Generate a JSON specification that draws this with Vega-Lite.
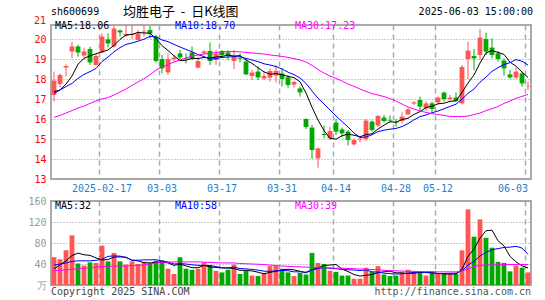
{
"$schema": "https://vega.github.io/schema/vega-lite/v6.json",
"padding": {"left": 0, "top": 5, "right": 5, "bottom": 0},
"background": "#ffffff",
"config": {
  "font": "DejaVu Sans Mono",
  "view": {"stroke": "#aaaaaa", "strokeWidth": 2},
  "axis": {"labelFont": "DejaVu Sans Mono", "labelFontSize": 10, "ticks": false, "domain": false, "title": null, "labelOverlap": false},
  "legend": {"labelFont": "DejaVu Sans Mono", "labelFontSize": 10}
},
"datasets": {
"kline": [
{"d":"2025-02-05","o":17.2,"h":18.37,"l":16.87,"c":17.92,"v":53,"m5":17.37,"m10":17.28,"m30":16.08,"vm5":31,"vm10":38,"vm30":27},
{"d":"2025-02-06","o":17.75,"h":18.28,"l":17.6,"c":18.2,"v":49,"m5":17.45,"m10":17.45,"m30":16.18,"vm5":38,"vm10":40,"vm30":28},
{"d":"2025-02-07","o":18.57,"h":18.73,"l":18.12,"c":18.65,"v":66,"m5":17.75,"m10":17.62,"m30":16.3,"vm5":46,"vm10":42,"vm30":29},
{"d":"2025-02-10","o":19.37,"h":19.87,"l":19.03,"c":19.62,"v":95,"m5":18.15,"m10":17.78,"m30":16.42,"vm5":56,"vm10":45,"vm30":30},
{"d":"2025-02-11","o":19.62,"h":19.7,"l":19.12,"c":19.33,"v":41,"m5":18.74,"m10":18.03,"m30":16.55,"vm5":60.8,"vm10":46,"vm30":31},
{"d":"2025-02-12","o":19.17,"h":19.57,"l":19.07,"c":19.37,"v":37,"m5":19.03,"m10":18.23,"m30":16.65,"vm5":57.6,"vm10":46,"vm30":32},
{"d":"2025-02-13","o":19.5,"h":19.62,"l":18.7,"c":18.83,"v":43,"m5":19.16,"m10":18.37,"m30":16.78,"vm5":56.4,"vm10":46,"vm30":33},
{"d":"2025-02-14","o":18.7,"h":19.28,"l":18.67,"c":19.15,"v":42,"m5":19.26,"m10":18.53,"m30":16.9,"vm5":51.6,"vm10":47,"vm30":34},
{"d":"2025-02-17","o":19.33,"h":20.28,"l":19.28,"c":20.12,"v":75,"m5":19.36,"m10":18.87,"m30":17.0,"vm5":47.6,"vm10":49,"vm30":35},
{"d":"2025-02-18","o":19.98,"h":20.28,"l":19.57,"c":19.78,"v":45,"m5":19.45,"m10":19.1,"m30":17.07,"vm5":48.4,"vm10":54.6,"vm30":35.5},
{"d":"2025-02-19","o":19.62,"h":20.68,"l":19.57,"c":20.53,"v":61,"m5":19.68,"m10":19.36,"m30":17.2,"vm5":53.2,"vm10":55.4,"vm30":36},
{"d":"2025-02-20","o":20.43,"h":20.47,"l":20.12,"c":20.33,"v":45,"m5":19.98,"m10":19.57,"m30":17.35,"vm5":53.6,"vm10":55,"vm30":36},
{"d":"2025-02-21","o":20.17,"h":20.68,"l":20.1,"c":20.25,"v":39,"m5":20.2,"m10":19.73,"m30":17.5,"vm5":53,"vm10":52.3,"vm30":36},
{"d":"2025-02-24","o":20.2,"h":20.68,"l":20.0,"c":20.25,"v":45,"m5":20.23,"m10":19.8,"m30":17.68,"vm5":47,"vm10":47.3,"vm30":37},
{"d":"2025-02-25","o":19.95,"h":20.45,"l":19.93,"c":20.28,"v":40,"m5":20.33,"m10":19.89,"m30":17.85,"vm5":46,"vm10":47.2,"vm30":37.5},
{"d":"2025-02-26","o":20.33,"h":20.7,"l":20.12,"c":20.37,"v":44,"m5":20.3,"m10":19.99,"m30":18.02,"vm5":42.6,"vm10":47.9,"vm30":38},
{"d":"2025-02-27","o":20.45,"h":20.65,"l":20.03,"c":20.28,"v":42,"m5":20.29,"m10":20.13,"m30":18.22,"vm5":42,"vm10":47.8,"vm30":40},
{"d":"2025-02-28","o":20.12,"h":20.2,"l":18.83,"c":18.9,"v":46,"m5":20.02,"m10":20.11,"m30":18.45,"vm5":43.4,"vm10":48.2,"vm30":42},
{"d":"2025-03-03","o":19.0,"h":19.2,"l":18.28,"c":18.53,"v":47,"m5":19.67,"m10":19.95,"m30":18.6,"vm5":43.8,"vm10":45.4,"vm30":43},
{"d":"2025-03-04","o":18.33,"h":19.28,"l":18.2,"c":19.0,"v":31,"m5":19.42,"m10":19.87,"m30":18.72,"vm5":42,"vm10":44,"vm30":43.5},
{"d":"2025-03-05","o":19.0,"h":19.2,"l":18.85,"c":19.07,"v":21,"m5":19.16,"m10":19.73,"m30":18.85,"vm5":37.4,"vm10":40,"vm30":44},
{"d":"2025-03-06","o":19.28,"h":19.45,"l":18.95,"c":19.08,"v":53,"m5":18.92,"m10":19.6,"m30":18.95,"vm5":39.6,"vm10":40.8,"vm30":44},
{"d":"2025-03-07","o":19.05,"h":19.28,"l":18.78,"c":19.03,"v":31,"m5":18.94,"m10":19.48,"m30":19.05,"vm5":36.6,"vm10":40,"vm30":44},
{"d":"2025-03-10","o":19.33,"h":19.62,"l":18.95,"c":19.03,"v":29,"m5":19.04,"m10":19.36,"m30":19.15,"vm5":33,"vm10":38.4,"vm30":44},
{"d":"2025-03-11","o":18.57,"h":19.12,"l":18.53,"c":18.9,"v":31,"m5":19.02,"m10":19.22,"m30":19.2,"vm5":33,"vm10":37.5,"vm30":44},
{"d":"2025-03-12","o":19.3,"h":19.45,"l":19.2,"c":19.37,"v":43,"m5":19.08,"m10":19.12,"m30":19.25,"vm5":37.4,"vm10":37.4,"vm30":43.5},
{"d":"2025-03-13","o":19.4,"h":19.83,"l":18.7,"c":18.9,"v":38,"m5":19.05,"m10":18.99,"m30":19.28,"vm5":34.4,"vm10":37,"vm30":43},
{"d":"2025-03-14","o":18.95,"h":19.45,"l":18.7,"c":19.28,"v":27,"m5":19.1,"m10":19.02,"m30":19.32,"vm5":33.6,"vm10":35.1,"vm30":42.5},
{"d":"2025-03-17","o":19.4,"h":19.45,"l":19.07,"c":19.2,"v":24,"m5":19.13,"m10":19.08,"m30":19.36,"vm5":32.6,"vm10":32.8,"vm30":42},
{"d":"2025-03-18","o":19.33,"h":19.45,"l":18.95,"c":19.2,"v":29,"m5":19.19,"m10":19.1,"m30":19.37,"vm5":32.2,"vm10":32.6,"vm30":42},
{"d":"2025-03-19","o":18.9,"h":19.45,"l":18.5,"c":19.15,"v":39,"m5":19.15,"m10":19.12,"m30":19.37,"vm5":31.4,"vm10":34.4,"vm30":42},
{"d":"2025-03-20","o":19.05,"h":19.28,"l":18.83,"c":19.02,"v":21,"m5":19.17,"m10":19.11,"m30":19.36,"vm5":28,"vm10":31.2,"vm30":41},
{"d":"2025-03-21","o":18.87,"h":18.95,"l":18.2,"c":18.23,"v":27,"m5":18.96,"m10":19.03,"m30":19.33,"vm5":28,"vm10":30.8,"vm30":40.5},
{"d":"2025-03-24","o":18.15,"h":18.45,"l":17.95,"c":18.32,"v":18,"m5":18.78,"m10":18.95,"m30":19.3,"vm5":26.8,"vm10":29.7,"vm30":40},
{"d":"2025-03-25","o":18.37,"h":18.62,"l":17.95,"c":18.08,"v":17,"m5":18.56,"m10":18.87,"m30":19.28,"vm5":24.4,"vm10":28.3,"vm30":39.5},
{"d":"2025-03-26","o":18.03,"h":18.37,"l":17.95,"c":18.15,"v":23,"m5":18.36,"m10":18.76,"m30":19.25,"vm5":21.2,"vm10":26.3,"vm30":39},
{"d":"2025-03-27","o":18.07,"h":18.53,"l":17.87,"c":18.4,"v":36,"m5":18.24,"m10":18.7,"m30":19.2,"vm5":24.2,"vm10":26.1,"vm30":38},
{"d":"2025-03-28","o":18.17,"h":18.7,"l":17.82,"c":18.4,"v":36,"m5":18.27,"m10":18.62,"m30":19.17,"vm5":26,"vm10":27,"vm30":37},
{"d":"2025-03-31","o":18.28,"h":18.53,"l":17.62,"c":18.0,"v":31,"m5":18.21,"m10":18.5,"m30":19.13,"vm5":28.6,"vm10":27.7,"vm30":36},
{"d":"2025-04-01","o":18.08,"h":18.2,"l":17.57,"c":17.7,"v":24,"m5":18.13,"m10":18.34,"m30":19.08,"vm5":30,"vm10":27.2,"vm30":35.5},
{"d":"2025-04-02","o":17.72,"h":17.9,"l":17.57,"c":17.85,"v":17,"m5":18.07,"m10":18.22,"m30":19.02,"vm5":28.8,"vm10":25,"vm30":35},
{"d":"2025-04-03","o":17.53,"h":17.62,"l":17.12,"c":17.33,"v":23,"m5":17.86,"m10":18.05,"m30":18.95,"vm5":26.2,"vm10":25.2,"vm30":34.5},
{"d":"2025-04-07","o":16.0,"h":16.03,"l":15.5,"c":15.6,"v":20,"m5":17.3,"m10":17.78,"m30":18.85,"vm5":23,"vm10":24.5,"vm30":34},
{"d":"2025-04-08","o":15.57,"h":15.7,"l":14.0,"c":14.45,"v":61,"m5":16.59,"m10":17.4,"m30":18.68,"vm5":29,"vm10":28.8,"vm30":33.5},
{"d":"2025-04-09","o":14.03,"h":14.57,"l":13.57,"c":14.53,"v":42,"m5":15.95,"m10":17.04,"m30":18.47,"vm5":32.6,"vm10":31.3,"vm30":33},
{"d":"2025-04-10","o":15.25,"h":15.67,"l":15.03,"c":15.2,"v":40,"m5":15.42,"m10":16.75,"m30":18.3,"vm5":37.2,"vm10":33,"vm30":33},
{"d":"2025-04-11","o":15.03,"h":15.62,"l":14.95,"c":15.4,"v":27,"m5":15.04,"m10":16.45,"m30":18.15,"vm5":38,"vm10":32.1,"vm30":32.5},
{"d":"2025-04-14","o":15.82,"h":16.0,"l":15.2,"c":15.37,"v":25,"m5":14.99,"m10":16.15,"m30":18.03,"vm5":39,"vm10":31,"vm30":32},
{"d":"2025-04-15","o":15.48,"h":15.57,"l":15.12,"c":15.28,"v":18,"m5":15.16,"m10":15.87,"m30":17.9,"vm5":30.4,"vm10":29.7,"vm30":32},
{"d":"2025-04-16","o":15.37,"h":15.45,"l":14.67,"c":14.95,"v":18,"m5":15.24,"m10":15.6,"m30":17.75,"vm5":25.6,"vm10":29.1,"vm30":31.5},
{"d":"2025-04-17","o":14.73,"h":15.03,"l":14.67,"c":14.95,"v":12,"m5":15.19,"m10":15.3,"m30":17.63,"vm5":20,"vm10":28.6,"vm30":31},
{"d":"2025-04-18","o":14.98,"h":15.12,"l":14.83,"c":15.02,"v":12,"m5":15.11,"m10":15.08,"m30":17.5,"vm5":17,"vm10":27.5,"vm30":30.5},
{"d":"2025-04-21","o":15.0,"h":16.0,"l":14.9,"c":15.92,"v":33,"m5":15.22,"m10":15.1,"m30":17.38,"vm5":18.6,"vm10":28.8,"vm30":30},
{"d":"2025-04-22","o":15.87,"h":15.93,"l":15.37,"c":15.45,"v":25,"m5":15.26,"m10":15.21,"m30":17.27,"vm5":20,"vm10":25.2,"vm30":29.5},
{"d":"2025-04-23","o":15.67,"h":16.2,"l":15.62,"c":16.15,"v":36,"m5":15.5,"m10":15.37,"m30":17.2,"vm5":23.6,"vm10":24.6,"vm30":29},
{"d":"2025-04-24","o":16.07,"h":16.2,"l":15.83,"c":15.9,"v":20,"m5":15.69,"m10":15.44,"m30":17.12,"vm5":25.2,"vm10":22.6,"vm30":28},
{"d":"2025-04-25","o":15.93,"h":16.17,"l":15.83,"c":15.9,"v":17,"m5":15.86,"m10":15.49,"m30":17.02,"vm5":26.2,"vm10":21.6,"vm30":27.5},
{"d":"2025-04-28","o":15.83,"h":16.0,"l":15.62,"c":15.8,"v":18,"m5":15.84,"m10":15.53,"m30":16.9,"vm5":23.2,"vm10":20.9,"vm30":27},
{"d":"2025-04-29","o":15.9,"h":16.33,"l":15.78,"c":16.12,"v":24,"m5":15.97,"m10":15.62,"m30":16.75,"vm5":23,"vm10":21.5,"vm30":26.5},
{"d":"2025-04-30","o":16.23,"h":16.57,"l":16.2,"c":16.48,"v":29,"m5":16.04,"m10":15.77,"m30":16.6,"vm5":21.6,"vm10":22.6,"vm30":26},
{"d":"2025-05-06","o":16.77,"h":16.9,"l":16.7,"c":16.83,"v":25,"m5":16.23,"m10":15.96,"m30":16.5,"vm5":22.6,"vm10":23.9,"vm30":26},
{"d":"2025-05-07","o":16.95,"h":17.12,"l":16.4,"c":16.62,"v":23,"m5":16.37,"m10":16.12,"m30":16.4,"vm5":23.8,"vm10":25,"vm30":25.5},
{"d":"2025-05-08","o":16.53,"h":16.9,"l":16.4,"c":16.78,"v":18,"m5":16.57,"m10":16.2,"m30":16.33,"vm5":23.8,"vm10":23.5,"vm30":25.5},
{"d":"2025-05-09","o":16.78,"h":16.87,"l":16.33,"c":16.5,"v":23,"m5":16.64,"m10":16.31,"m30":16.27,"vm5":23.6,"vm10":23.3,"vm30":25.5},
{"d":"2025-05-12","o":16.83,"h":17.12,"l":16.73,"c":17.07,"v":21,"m5":16.76,"m10":16.4,"m30":16.22,"vm5":22,"vm10":21.8,"vm30":25},
{"d":"2025-05-13","o":17.32,"h":17.37,"l":16.87,"c":17.0,"v":21,"m5":16.79,"m10":16.51,"m30":16.18,"vm5":21.2,"vm10":21.9,"vm30":25},
{"d":"2025-05-14","o":17.0,"h":17.2,"l":16.93,"c":17.07,"v":20,"m5":16.88,"m10":16.63,"m30":16.13,"vm5":20.6,"vm10":22.2,"vm30":25},
{"d":"2025-05-15","o":17.07,"h":17.33,"l":16.87,"c":16.9,"v":21,"m5":16.91,"m10":16.74,"m30":16.12,"vm5":21.2,"vm10":22.5,"vm30":25},
{"d":"2025-05-16","o":16.78,"h":18.7,"l":16.73,"c":18.6,"v":66,"m5":17.33,"m10":16.99,"m30":16.12,"vm5":29.8,"vm10":26.7,"vm30":26.5},
{"d":"2025-05-19","o":19.0,"h":19.87,"l":18.0,"c":19.42,"v":144,"m5":17.8,"m10":17.28,"m30":16.15,"vm5":54.4,"vm10":38.2,"vm30":31},
{"d":"2025-05-20","o":19.15,"h":19.5,"l":18.45,"c":19.03,"v":92,"m5":18.2,"m10":17.5,"m30":16.22,"vm5":68.6,"vm10":44.9,"vm30":35},
{"d":"2025-05-21","o":19.2,"h":20.5,"l":18.95,"c":20.07,"v":125,"m5":18.8,"m10":17.84,"m30":16.3,"vm5":89.6,"vm10":55.1,"vm30":37.5},
{"d":"2025-05-22","o":20.0,"h":20.32,"l":19.2,"c":19.37,"v":90,"m5":19.3,"m10":18.1,"m30":16.42,"vm5":103.4,"vm10":62.3,"vm30":38},
{"d":"2025-05-23","o":19.57,"h":20.03,"l":19.03,"c":19.2,"v":71,"m5":19.42,"m10":18.38,"m30":16.52,"vm5":104.4,"vm10":67.1,"vm30":38.5},
{"d":"2025-05-26","o":19.28,"h":19.4,"l":18.87,"c":19.0,"v":44,"m5":19.33,"m10":18.57,"m30":16.62,"vm5":84.4,"vm10":69.4,"vm30":38.5},
{"d":"2025-05-27","o":18.92,"h":19.03,"l":18.17,"c":18.53,"v":42,"m5":19.23,"m10":18.72,"m30":16.78,"vm5":74.4,"vm10":71.5,"vm30":39},
{"d":"2025-05-28","o":18.23,"h":18.45,"l":18.0,"c":18.08,"v":26,"m5":18.84,"m10":18.82,"m30":16.9,"vm5":54.6,"vm10":72.1,"vm30":39},
{"d":"2025-05-29","o":18.07,"h":18.57,"l":18.0,"c":18.37,"v":37,"m5":18.64,"m10":18.97,"m30":17.03,"vm5":44,"vm10":73.7,"vm30":39},
{"d":"2025-05-30","o":18.28,"h":18.37,"l":17.62,"c":17.78,"v":33,"m5":18.35,"m10":18.89,"m30":17.13,"vm5":36.4,"vm10":70.4,"vm30":39},
{"d":"2025-06-03","o":17.6,"h":17.87,"l":17.45,"c":17.62,"v":24,"m5":18.08,"m10":18.7,"m30":17.23,"vm5":32.4,"vm10":58.4,"vm30":39}
],
"one": [{}]
},
"spacing": 0,
"resolve": {"scale": {"color": "independent"}, "legend": {"color": "independent"}},
"vconcat": [
{
  "width": 480,
  "height": 154,
  "data": {"name": "kline"},
  "layer": [
    {
      "mark": {"type": "rule", "strokeWidth": 1},
      "encoding": {
        "x": {"field": "d", "type": "ordinal", "scale": {"paddingInner": 0, "paddingOuter": 0},
          "axis": {"values": ["2025-02-17","2025-03-03","2025-03-17","2025-03-31","2025-04-14","2025-04-28","2025-05-12","2025-06-03"],
            "bandPosition": 0, "grid": true, "gridDash": [5,4], "gridColor": "#aaaaaa", "gridWidth": 1.5,
            "labelAngle": 0, "labelOverlap": false, "labelColor": "#1a7fd4", "labelPadding": 4,
            "labelExpr": "datum.value == '2025-02-17' ? datum.value : substring(datum.value, 5)",
            "labelAlign": {"condition": {"test": "datum.value == '2025-06-03'", "value": "right"}, "value": "center"},
            "minExtent": 15, "maxExtent": 15}},
        "y": {"field": "l", "type": "quantitative", "scale": {"domain": [13, 20.7], "nice": false, "zero": false},
          "axis": {"values": [13,14,15,16,17,18,19,20], "tickCount": 20, "format": "d", "grid": true, "gridDash": [1,2], "gridColor": "#999999", "labelOverlap": false,
            "labelColor": "#ff0000", "labelPadding": 5, "minExtent": 50, "maxExtent": 50}},
        "y2": {"field": "h"},
        "color": {"condition": {"test": "datum.c >= datum.o", "value": "#ff5555"}, "value": "#00a800"}
      }
    },
    {
      "mark": {"type": "bar", "width": {"band": 0.8}},
      "encoding": {
        "x": {"field": "d", "type": "ordinal"},
        "y": {"field": "o", "type": "quantitative", "scale": {"domain": [13, 20.7], "nice": false, "zero": false}},
        "y2": {"field": "c"},
        "color": {"condition": {"test": "datum.c >= datum.o", "value": "#ff5555"}, "value": "#00a800"}
      }
    },
    {
      "transform": [{"fold": ["m5", "m10", "m30"], "as": ["k", "val"]}],
      "mark": {"type": "line", "strokeWidth": 1},
      "encoding": {
        "x": {"field": "d", "type": "ordinal"},
        "y": {"field": "val", "type": "quantitative", "scale": {"domain": [13, 20.7], "nice": false, "zero": false}},
        "color": {"field": "k", "type": "nominal",
          "scale": {"domain": ["m5", "m10", "m30"], "range": ["#000000", "#0000ff", "#ff00ff"]},
          "legend": {"orient": "none", "legendX": 0, "legendY": -4, "padding": 0, "direction": "horizontal", "columns": 3,
            "gridAlign": "all", "columnPadding": 55, "title": null, "symbolSize": 0, "symbolStrokeWidth": 0, "symbolOpacity": 0,
            "labelOffset": -6, "labelFontSize": 10,
            "labelExpr": "datum.value == 'm5' ? 'MA5:18.06' : datum.value == 'm10' ? 'MA10:18.70' : 'MA30:17.23'",
            "encode": {"labels": {"update": {"fill": {"signal": "datum.value == 'm5' ? '#000000' : datum.value == 'm10' ? '#0000ff' : '#ff00ff'"}}}}}
        }
      }
    },
    {
      "data": {"name": "one"},
      "mark": {"type": "text", "align": "left", "baseline": "middle", "dx": -3, "fontSize": 10, "font": "DejaVu Sans Mono", "color": "#000000"},
      "encoding": {
        "x": {"datum": "2025-02-05", "type": "ordinal"},
        "y": {"datum": 21.34, "type": "quantitative", "scale": {"domain": [13, 20.7], "nice": false, "zero": false}},
        "text": {"value": "sh600699"}
      }
    },
    {
      "data": {"name": "one"},
      "mark": {"type": "text", "align": "left", "baseline": "middle", "dx": -3, "fontSize": 13, "font": "Noto Sans CJK SC", "color": "#000000"},
      "encoding": {
        "x": {"datum": "2025-02-21", "type": "ordinal"},
        "y": {"datum": 21.34, "type": "quantitative", "scale": {"domain": [13, 20.7], "nice": false, "zero": false}},
        "text": {"value": "均胜电子\u00a0\u00a0-\u00a0\u00a0日K线图"}
      }
    },
    {
      "data": {"name": "one"},
      "mark": {"type": "text", "align": "right", "baseline": "middle", "dx": 5, "fontSize": 10, "font": "DejaVu Sans Mono", "color": "#000000"},
      "encoding": {
        "x": {"datum": "2025-06-03", "type": "ordinal"},
        "y": {"datum": 21.34, "type": "quantitative", "scale": {"domain": [13, 20.7], "nice": false, "zero": false}},
        "text": {"value": "2025-06-03 15:00:00"}
      }
    },
    {
      "data": {"name": "one"},
      "mark": {"type": "text", "align": "right", "baseline": "middle", "dx": -8, "fontSize": 10, "font": "DejaVu Sans Mono", "color": "#ff0000"},
      "encoding": {
        "x": {"datum": "2025-02-05", "type": "ordinal"},
        "y": {"datum": 20.88, "type": "quantitative", "scale": {"domain": [13, 20.7], "nice": false, "zero": false}},
        "text": {"value": "21"}
      }
    }
  ]
},
{
  "width": 480,
  "height": 84,
  "data": {"name": "kline"},
  "layer": [
    {
      "mark": {"type": "bar", "width": {"band": 0.8}},
      "encoding": {
        "x": {"field": "d", "type": "ordinal", "scale": {"paddingInner": 0, "paddingOuter": 0},
          "axis": {"values": ["2025-02-17","2025-03-03","2025-03-17","2025-03-31","2025-04-14","2025-04-28","2025-05-12","2025-06-03"],
            "bandPosition": 0, "grid": true, "gridDash": [5,4], "gridColor": "#aaaaaa", "gridWidth": 1.5,
            "labels": false, "minExtent": 0, "maxExtent": 0}},
        "y": {"field": "v", "type": "quantitative", "scale": {"domain": [0, 160], "nice": false},
          "axis": {"values": [0,40,80,120,160], "tickCount": 10, "format": "d", "grid": true, "gridDash": [1,2], "gridColor": "#999999", "labelOverlap": false,
            "labelColor": "#999999", "labelPadding": 5, "minExtent": 50, "maxExtent": 50,
            "labelExpr": "datum.value == 0 ? '万' : datum.label"}},
        "color": {"condition": {"test": "datum.c >= datum.o", "value": "#ff5555"}, "value": "#00a800"}
      }
    },
    {
      "transform": [{"fold": ["vm5", "vm10", "vm30"], "as": ["vk", "vval"]}],
      "mark": {"type": "line", "strokeWidth": 1},
      "encoding": {
        "x": {"field": "d", "type": "ordinal"},
        "y": {"field": "vval", "type": "quantitative", "scale": {"domain": [0, 160], "nice": false}},
        "color": {"field": "vk", "type": "nominal",
          "scale": {"domain": ["vm5", "vm10", "vm30"], "range": ["#000000", "#0000ff", "#ff00ff"]},
          "legend": {"orient": "none", "legendX": 0, "legendY": 0, "padding": 0, "direction": "horizontal", "columns": 3,
            "gridAlign": "all", "columnPadding": 73, "title": null, "symbolSize": 0, "symbolStrokeWidth": 0, "symbolOpacity": 0,
            "labelOffset": -6, "labelFontSize": 10,
            "labelExpr": "datum.value == 'vm5' ? 'MA5:32' : datum.value == 'vm10' ? 'MA10:58' : 'MA30:39'",
            "encode": {"labels": {"update": {"fill": {"signal": "datum.value == 'vm5' ? '#000000' : datum.value == 'vm10' ? '#0000ff' : '#ff00ff'"}}}}}
        }
      }
    },
    {
      "data": {"name": "one"},
      "mark": {"type": "text", "align": "left", "baseline": "middle", "dx": -3, "fontSize": 10, "font": "DejaVu Sans Mono", "color": "#444444"},
      "encoding": {
        "x": {"datum": "2025-02-05", "type": "ordinal"},
        "y": {"datum": -14, "type": "quantitative", "scale": {"domain": [0, 160], "nice": false}},
        "text": {"value": "Copyright 2025 SINA.COM"}
      }
    },
    {
      "data": {"name": "one"},
      "mark": {"type": "text", "align": "right", "baseline": "middle", "dx": 3, "fontSize": 10, "font": "DejaVu Sans Mono", "color": "#555555"},
      "encoding": {
        "x": {"datum": "2025-06-03", "type": "ordinal"},
        "y": {"datum": -14, "type": "quantitative", "scale": {"domain": [0, 160], "nice": false}},
        "text": {"value": "http://finance.sina.com.cn"}
      }
    }
  ]
}
]
}
